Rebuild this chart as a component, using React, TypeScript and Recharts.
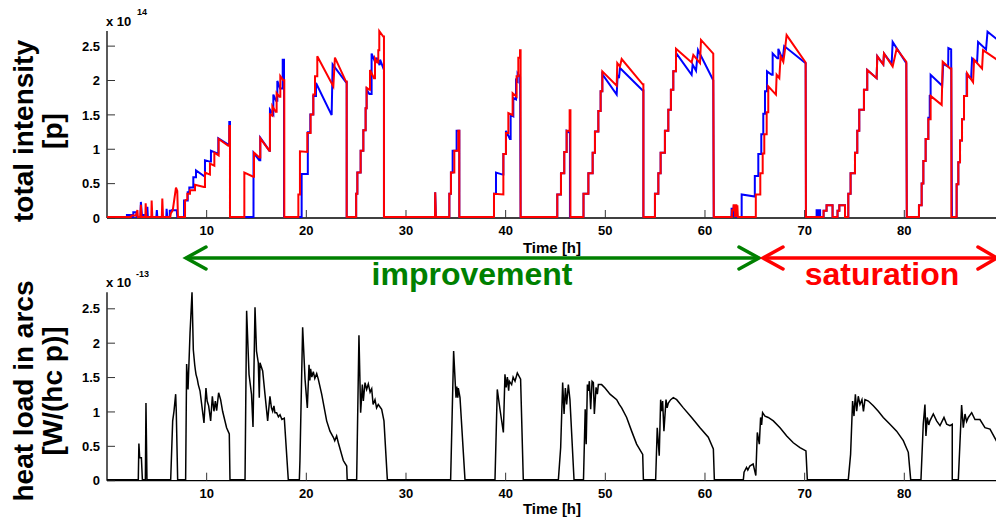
import React from 'react';
import { LineChart, Line, XAxis, YAxis } from 'recharts';

type P = [number, number];

const xTicks = [10, 20, 30, 40, 50, 60, 70, 80];
const yTicks = [0, 0.5, 1, 1.5, 2, 2.5];
const yTickLabels: Record<string, string> = { '0': '0', '0.5': '0.5', '1': '1', '1.5': '1.5', '2': '2', '2.5': '2.5' };
const xDomain: [number, number] = [0, 89.3];
const topYDomain: [number, number] = [0, 2.72];
const botYDomain: [number, number] = [0, 2.74];
// the data layer sits a hair above the frame's baseline so zero-level segments stay visible over the axis line
const topLineDomain: [number, number] = [-0.015, 2.72];
const botLineDomain: [number, number] = [-0.015, 2.74];

// total intensity, beam 1 (blue), units 1e14 p
const blueTop: P[] = [
  [0, 0], [2.0, 0], [2.0, 0.03], [2.5, 0.03], [2.5, 0], [2.64, 0], [2.64, 0.07], [2.97, 0.07], [2.97, 0], [3.35, 0], [3.4, 0.22], [3.5, 0.03], [3.7, 0.03], [3.7, 0], [4.0, 0], [4.05, 0.15], [4.1, 0], [4.95, 0], [5.0, 0.1], [5.05, 0], [5.95, 0], [5.98, 0.12], [6.05, 0], [6.3, 0], [6.3, 0.09], [6.5, 0.09], [6.5, 0.1], [7.0, 0.1], [7.05, 0],
  [7.73, 0], [7.73, 0.24], [8.1, 0.24], [8.1, 0.36], [8.26, 0.36], [8.26, 0.43], [8.66, 0.43], [8.66, 0.58], [8.93, 0.58], [8.93, 0.68], [9.73, 0.6], [9.83, 0.6], [9.83, 0.83], [10.33, 0.81], [10.43, 0.81], [10.43, 0.97], [11.07, 0.93], [11.17, 0.93], [11.17, 1.15], [12.17, 1.06], [12.27, 1.06], [12.27, 1.39], [12.34, 1.39], [12.34, 0],
  [14.7, 0], [14.7, 0.94], [15.28, 0.83], [15.38, 0.83], [15.38, 1.16], [16.29, 0.97], [16.35, 0.97], [16.35, 1.57], [16.69, 1.5], [16.69, 1.79], [16.96, 1.7], [17.09, 1.7], [17.09, 1.99], [17.36, 1.88], [17.63, 1.88], [17.63, 2.3], [17.76, 2.3], [17.76, 0],
  [19.53, 0], [19.53, 0.63], [20.15, 0.63], [20.15, 1.24], [20.4, 1.24], [20.4, 1.5], [20.7, 1.5], [20.7, 1.77], [20.97, 1.77], [20.97, 1.96], [22.54, 1.49], [22.64, 2.23], [23.98, 1.97], [24.05, 1.97], [24.05, 0],
  [25.0, 0], [25.0, 0.34], [25.12, 0.34], [25.12, 0.65], [25.45, 0.65], [25.45, 0.97], [25.72, 0.97], [25.72, 1.27], [25.95, 1.27], [25.95, 1.59], [26.05, 1.59], [26.05, 1.86], [26.32, 1.8], [26.55, 1.8], [26.55, 2.39], [26.89, 2.27], [27.0, 2.27], [27.05, 2.33], [27.35, 2.22], [27.4, 2.3], [27.79, 2.15], [27.79, 0],
  [32.91, 0], [32.93, 0.36], [33.0, 0],
  [34.35, 0], [34.35, 0.34], [34.51, 0.34], [34.51, 0.65], [34.68, 0.65], [34.68, 0.97], [35.08, 0.97], [35.08, 1.26], [35.35, 1.26], [35.35, 0],
  [38.83, 0], [38.83, 0.34], [39.03, 0.34], [39.03, 0.65], [39.7, 0.62], [39.77, 0.62], [39.77, 0.92], [40.03, 0.92], [40.03, 1.26], [40.43, 1.14], [40.5, 1.14], [40.5, 1.49], [40.77, 1.47], [40.77, 1.74], [41.04, 1.72], [41.04, 2.0], [41.2, 1.98], [41.2, 2.1], [41.45, 2.05], [41.5, 0],
  [45.18, 0], [45.18, 0.33], [45.55, 0.33], [45.55, 0.64], [45.88, 0.64], [45.88, 0.95], [46.12, 0.95], [46.12, 1.26], [46.45, 1.23], [46.45, 0],
  [47.81, 0], [47.81, 0.34], [48.3, 0.34], [48.3, 0.64], [48.73, 0.64], [48.73, 0.94], [48.96, 0.94], [48.96, 1.25], [49.3, 1.25], [49.3, 1.55], [49.53, 1.55], [49.53, 1.84], [49.7, 1.84], [49.7, 2.09], [51.14, 1.79], [51.24, 2.08], [51.37, 2.03], [51.47, 2.18], [53.75, 1.85], [53.82, 1.85], [53.82, 0],
  [54.98, 0], [54.98, 0.34], [55.32, 0.34], [55.32, 0.64], [55.55, 0.64], [55.55, 0.94], [55.98, 0.94], [55.98, 1.26], [56.32, 1.26], [56.32, 1.57], [56.58, 1.57], [56.58, 1.86], [56.82, 1.86], [56.82, 2.13], [57.09, 2.13], [57.09, 2.4], [58.66, 2.08], [58.76, 2.23], [59.1, 2.14], [59.3, 2.44], [60.83, 2.0], [60.88, 0],
  [62.65, 0], [62.67, 0.12], [62.8, 0.12], [62.8, 0], [62.9, 0.17], [63.0, 0], [63.1, 0.17], [63.15, 0], [63.68, 0], [63.68, 0.33], [65.0, 0.3], [65.0, 0.6], [65.35, 0.6], [65.35, 0.92], [65.65, 0.92], [65.65, 1.21], [65.85, 1.21], [65.85, 1.51], [66.02, 1.51], [66.02, 1.84], [66.22, 1.84], [66.22, 2.13], [66.69, 2.08], [66.79, 2.08], [66.79, 2.39], [67.26, 2.32], [67.36, 2.32], [67.36, 2.46], [67.79, 2.3], [67.95, 2.5], [70.1, 2.25], [70.13, 0],
  [71.2, 0], [71.2, 0.1], [71.35, 0.1], [71.35, 0], [71.45, 0], [71.45, 0.1], [71.55, 0.1], [71.55, 0], [71.9, 0], [71.9, 0.09], [72.2, 0.09], [72.2, 0.17], [72.8, 0.17], [72.8, 0], [73.3, 0], [73.3, 0.09], [73.48, 0.09], [73.48, 0.17], [74.05, 0.17], [74.05, 0],
  [74.38, 0], [74.38, 0.34], [74.61, 0.34], [74.61, 0.64], [75.05, 0.64], [75.05, 0.94], [75.28, 0.94], [75.28, 1.26], [75.48, 1.26], [75.48, 1.57], [75.95, 1.57], [75.95, 1.86], [76.28, 1.86], [76.28, 2.15], [77.22, 2.03], [77.29, 2.35], [77.89, 2.23], [77.96, 2.39], [78.73, 2.24], [78.83, 2.56], [80.2, 2.25], [80.25, 0],
  [81.47, 0], [81.47, 0.17], [81.74, 0.17], [81.74, 0.49], [81.91, 0.49], [81.91, 0.82], [82.14, 0.82], [82.14, 1.14], [82.41, 1.14], [82.41, 1.45], [82.55, 1.45], [82.55, 1.77], [82.64, 1.77], [82.64, 2.08], [83.8, 1.92], [83.9, 2.24], [84.4, 2.2], [84.42, 2.47], [84.7, 2.45], [84.78, 0],
  [85.25, 0], [85.25, 0.48], [85.42, 0.48], [85.42, 0.8], [85.59, 0.8], [85.59, 1.12], [85.79, 1.12], [85.79, 1.43], [85.99, 1.43], [85.99, 1.77], [86.25, 1.77], [86.25, 2.08], [86.7, 2.02], [86.8, 2.32], [87.3, 2.26], [87.4, 2.56], [88.2, 2.45], [88.35, 2.71], [89.3, 2.6],
];

// total intensity, beam 2 (red), units 1e14 p
const redTop: P[] = [
  [0, 0], [2.4, 0], [2.45, 0.02], [2.9, 0.02], [3.05, 0.1], [3.1, 0], [3.35, 0], [3.4, 0.18], [3.45, 0], [3.85, 0], [3.88, 0.2], [3.95, 0], [4.45, 0], [4.48, 0.24], [4.55, 0], [5.5, 0], [5.55, 0.27], [5.62, 0], [6.35, 0], [6.4, 0.05], [6.6, 0.1], [6.92, 0.43], [7.05, 0.38], [7.12, 0],
  [7.83, 0], [7.83, 0.24], [8.06, 0.26], [8.06, 0.34], [8.33, 0.34], [8.33, 0.39], [8.83, 0.39], [8.83, 0.47], [9.73, 0.44], [9.83, 0.44], [9.83, 0.65], [10.33, 0.62], [10.33, 0.78], [10.77, 0.75], [10.77, 0.94], [11.2, 0.9], [11.2, 1.14], [12.17, 1.04], [12.27, 1.04], [12.27, 1.33], [12.34, 1.33], [12.34, 0],
  [13.78, 0], [13.78, 0.65], [14.68, 0.59], [14.75, 0.59], [14.75, 0.94], [15.28, 0.87], [15.38, 0.87], [15.38, 1.15], [16.29, 0.97], [16.35, 0.97], [16.35, 1.5], [16.59, 1.48], [16.59, 1.62], [16.92, 1.54], [17.02, 1.54], [17.02, 1.81], [17.29, 1.76], [17.39, 1.76], [17.39, 2.06], [17.69, 2.0], [17.79, 2.0], [17.79, 0],
  [19.2, 0], [19.2, 0.33], [19.36, 0.33], [19.36, 0.96], [20.1, 0.95], [20.1, 1.23], [20.43, 1.23], [20.43, 1.5], [20.7, 1.5], [20.7, 1.79], [20.87, 1.79], [20.87, 2.06], [21.1, 2.06], [21.1, 2.35], [22.71, 1.91], [22.87, 2.33], [23.98, 1.98], [24.05, 1.98], [24.05, 0],
  [25.0, 0], [25.0, 0.34], [25.12, 0.34], [25.12, 0.65], [25.45, 0.65], [25.45, 0.97], [25.72, 0.97], [25.72, 1.27], [25.95, 1.27], [25.95, 1.59], [26.05, 1.59], [26.05, 1.89], [26.32, 1.86], [26.39, 1.86], [26.39, 2.15], [26.79, 2.03], [26.89, 2.03], [26.89, 2.32], [27.12, 2.26], [27.22, 2.26], [27.22, 2.44], [27.32, 2.44], [27.32, 2.72], [27.72, 2.64], [27.79, 2.64], [27.79, 0],
  [32.91, 0], [32.93, 0.36], [33.0, 0],
  [34.35, 0], [34.35, 0.34], [34.51, 0.34], [34.51, 0.65], [34.85, 0.65], [34.85, 0.97], [35.25, 0.97], [35.25, 1.26], [35.35, 1.26], [35.35, 0],
  [38.83, 0], [38.83, 0.34], [39.77, 0.33], [39.77, 0.92], [40.03, 0.92], [40.03, 1.23], [40.27, 1.23], [40.27, 1.52], [40.7, 1.49], [40.7, 1.81], [41.1, 1.76], [41.1, 2.06], [41.27, 2.06], [41.27, 2.33], [41.44, 2.33], [41.44, 2.44], [41.5, 2.44], [41.5, 0],
  [45.18, 0], [45.18, 0.33], [45.55, 0.33], [45.55, 0.64], [45.88, 0.64], [45.88, 0.95], [46.12, 0.95], [46.12, 1.26], [46.42, 1.26], [46.42, 1.56], [46.5, 1.56], [46.5, 0],
  [47.81, 0], [47.81, 0.34], [48.3, 0.34], [48.3, 0.64], [48.73, 0.64], [48.73, 0.94], [48.96, 0.94], [48.96, 1.25], [49.3, 1.25], [49.3, 1.55], [49.53, 1.55], [49.53, 1.84], [49.7, 1.84], [49.7, 2.13], [51.14, 1.92], [51.2, 2.25], [51.47, 2.2], [51.64, 2.31], [53.75, 1.94], [53.82, 1.94], [53.82, 0],
  [54.98, 0], [54.98, 0.34], [55.32, 0.34], [55.32, 0.64], [55.55, 0.64], [55.55, 0.94], [55.98, 0.94], [55.98, 1.26], [56.32, 1.26], [56.32, 1.57], [56.58, 1.57], [56.58, 1.86], [56.82, 1.86], [56.82, 2.13], [57.09, 2.13], [57.09, 2.46], [58.66, 2.26], [58.83, 2.37], [59.5, 2.25], [59.6, 2.59], [60.83, 2.39], [60.88, 0],
  [62.7, 0], [62.72, 0.1], [62.85, 0.1], [62.87, 0.17], [63.0, 0.17], [63.0, 0], [63.05, 0.17], [63.15, 0.17], [63.2, 0], [63.25, 0.17], [63.3, 0], [65.1, 0], [65.1, 0.33], [65.55, 0.33], [65.55, 0.64], [65.79, 0.64], [65.79, 0.93], [65.95, 0.93], [65.95, 1.21], [66.19, 1.21], [66.19, 1.53], [66.35, 1.53], [66.35, 1.91], [67.12, 1.79], [67.19, 2.08], [67.46, 2.03], [67.59, 2.35], [67.86, 2.27], [68.02, 2.44], [68.19, 2.66], [70.1, 2.26], [70.13, 0],
  [71.9, 0], [71.9, 0.09], [72.2, 0.09], [72.2, 0.17], [72.8, 0.17], [72.8, 0], [73.3, 0], [73.3, 0.09], [73.48, 0.09], [73.48, 0.17], [74.05, 0.17], [74.05, 0],
  [74.38, 0], [74.38, 0.34], [74.61, 0.34], [74.61, 0.64], [75.05, 0.64], [75.05, 0.94], [75.28, 0.94], [75.28, 1.26], [75.48, 1.26], [75.48, 1.57], [75.95, 1.57], [75.95, 1.86], [76.28, 1.86], [76.28, 2.15], [77.22, 2.03], [77.29, 2.35], [77.89, 2.23], [77.96, 2.39], [78.83, 2.2], [79.23, 2.46], [80.2, 2.27], [80.25, 0],
  [81.47, 0], [81.47, 0.17], [81.74, 0.17], [81.74, 0.49], [81.91, 0.49], [81.91, 0.82], [82.14, 0.82], [82.14, 1.14], [82.41, 1.14], [82.41, 1.43], [82.64, 1.43], [82.64, 1.77], [83.75, 1.64], [83.85, 2.27], [84.6, 2.17], [84.72, 2.17], [84.72, 0],
  [85.25, 0], [85.25, 0.48], [85.42, 0.48], [85.42, 0.8], [85.59, 0.8], [85.59, 1.12], [85.79, 1.12], [85.79, 1.43], [85.99, 1.43], [85.99, 1.77], [86.3, 1.77], [86.3, 2.1], [86.9, 1.97], [87.0, 2.3], [87.8, 2.17], [87.9, 2.44], [89.3, 2.3],
];

// heat load in arcs, units 1e-13 W/(hc p)
const heatLoad: P[] = [
  [0, 0], [3.14, 0], [3.2, 0.53], [3.28, 0.32], [3.45, 0.32], [3.55, 0], [3.85, 0], [3.91, 1.12], [4.01, 0],
  [6.39, 0], [6.59, 0.86], [6.72, 1.0], [6.82, 1.15], [6.89, 1.25], [6.95, 1.0], [7.09, 0],
  [7.89, 0], [7.99, 1.69], [8.13, 1.32], [8.33, 2.14], [8.53, 2.74], [8.66, 1.9], [8.8, 1.68], [8.87, 1.6], [8.93, 1.54], [9.06, 1.47], [9.16, 1.39], [9.33, 1.3], [9.73, 0.83], [9.93, 1.34], [10.05, 1.15], [10.2, 1.08], [10.4, 0.86], [10.57, 1.22], [10.73, 1.0], [10.87, 1.15], [11.0, 1.01], [11.2, 1.27], [11.4, 1.17], [11.6, 1.0], [12.0, 0.76], [12.27, 0.67], [12.34, 0],
  [13.85, 0], [14.01, 2.47], [14.25, 1.54], [14.5, 1.25], [14.65, 0.77], [14.85, 2.52], [15.0, 1.88], [15.18, 1.71], [15.28, 1.2], [15.35, 1.71], [15.62, 1.59], [15.85, 1.25], [16.12, 0.86], [16.35, 1.22], [16.5, 1.05], [16.62, 1.0], [16.75, 1.08], [16.85, 0.98], [17.02, 0.98], [17.2, 0.92], [17.36, 0.95], [17.55, 0.88], [17.79, 0.9], [18.19, 0],
  [19.3, 0], [19.36, 0.28], [19.63, 2.23], [19.87, 1.47], [20.1, 1.05], [20.27, 1.68], [20.35, 1.45], [20.43, 1.62], [20.55, 1.5], [20.7, 1.58], [20.85, 1.48], [21.04, 1.55], [21.2, 1.47], [21.54, 1.25], [22.04, 0.86], [22.37, 0.71], [22.71, 0.62], [22.85, 0.57], [23.04, 0.64], [23.21, 0.54], [23.71, 0.28], [24.05, 0.2], [24.1, 0],
  [25.05, 0], [25.28, 2.11], [25.45, 0.98], [25.62, 1.39], [25.72, 1.15], [25.89, 1.42], [26.05, 1.32], [26.22, 1.4], [26.4, 1.28], [26.56, 1.33], [26.7, 1.1], [26.89, 1.17], [27.05, 1.05], [27.22, 1.1], [27.56, 1.03], [27.79, 0.86], [28.13, 0],
  [34.48, 0], [34.78, 1.88], [34.95, 1.39], [35.02, 1.2], [35.1, 1.36], [35.2, 1.2], [35.25, 1.34], [35.42, 1.2], [35.92, 0],
  [38.93, 0], [39.16, 1.32], [39.43, 1.03], [39.77, 0.69], [39.93, 1.54], [40.05, 1.35], [40.17, 1.5], [40.3, 1.3], [40.37, 1.44], [40.6, 1.39], [40.75, 1.5], [40.94, 1.44], [41.17, 1.56], [41.5, 1.47], [41.77, 0],
  [45.29, 0], [45.52, 0.47], [45.72, 1.42], [45.86, 0.96], [45.99, 1.34], [46.12, 1.1], [46.29, 1.39], [46.45, 1.17], [46.86, 0],
  [47.81, 0], [47.98, 1.03], [48.08, 0.52], [48.2, 1.39], [48.3, 1.3], [48.4, 1.44], [48.53, 1.03], [48.67, 1.44], [48.8, 1.42], [48.9, 0.96], [49.07, 1.35], [49.2, 1.25], [49.3, 1.39], [49.63, 1.39], [49.97, 1.34], [50.47, 1.25], [51.14, 1.17], [51.4, 1.1], [51.64, 1.05], [52.14, 0.91], [52.64, 0.71], [53.14, 0.52], [53.75, 0.37], [53.82, 0],
  [55.05, 0], [55.21, 0.76], [55.41, 0.35], [55.55, 1.17], [55.65, 1.0], [55.75, 1.15], [55.88, 0.71], [56.09, 1.17], [56.2, 1.05], [56.32, 1.12], [56.56, 1.17], [56.82, 1.2], [57.16, 1.17], [57.83, 1.05], [58.66, 0.91], [59.5, 0.76], [60.33, 0.62], [60.84, 0.45], [60.94, 0],
  [63.85, 0], [63.92, 0.11], [64.17, 0.18], [64.3, 0.14], [64.5, 0.2], [64.83, 0.23], [65.1, 0.06], [65.25, 0.69], [65.45, 0.52], [65.58, 0.91], [65.68, 0.8], [65.78, 0.98], [66.02, 0.93], [66.35, 0.91], [66.86, 0.86], [67.53, 0.76], [68.2, 0.64], [68.86, 0.54], [69.53, 0.47], [70.13, 0.42], [70.27, 0],
  [74.38, 0], [74.61, 0.37], [74.81, 1.15], [74.95, 0.93], [75.09, 1.25], [75.22, 1.0], [75.38, 1.22], [75.55, 1.1], [75.75, 1.17], [75.9, 1.0], [76.05, 1.17], [76.39, 1.15], [76.89, 1.08], [77.39, 1.0], [77.89, 0.91], [78.56, 0.81], [79.23, 0.71], [79.9, 0.57], [80.4, 0.4], [80.64, 0],
  [81.67, 0], [81.9, 0.81], [82.07, 1.1], [82.17, 0.64], [82.3, 0.91], [82.45, 0.8], [82.57, 0.86], [82.91, 0.96], [83.24, 0.86], [83.58, 0.79], [83.98, 0.91], [84.25, 0.81], [84.58, 0.79], [84.81, 0.81], [84.81, 0],
  [85.42, 0], [85.75, 1.09], [85.92, 0.76], [86.09, 0.96], [86.25, 0.85], [86.42, 0.91], [86.76, 0.98], [87.09, 0.88], [87.59, 0.88], [88.09, 0.76], [88.6, 0.74], [89.3, 0.55],
];

const toData = (a: P[]) => a.map(([t, v]) => ({ t, v }));
const FONT = '"Liberation Sans", Arial, Helvetica, sans-serif';
const TICK_LEN = 8;
const CHART_W = 998;
const Y_AXIS_W = 107;

const LeftTick = (props: any) => {
  const { x, y, payload } = props;
  return (
    <g>
      <line x1={x} y1={y} x2={x + TICK_LEN} y2={y} stroke="#333" strokeWidth={1} />
      <text x={x - 7} y={y} dy="0.36em" textAnchor="end" fontFamily={FONT} fontWeight="bold" fontSize={13} fill="#000">
        {yTickLabels[String(payload.value)]}
      </text>
    </g>
  );
};
const RightTick = (props: any) => {
  const { x, y } = props;
  return <line x1={x} y1={y} x2={x - TICK_LEN} y2={y} stroke="#333" strokeWidth={1} />;
};
const BottomTick = (props: any) => {
  const { x, y, payload } = props;
  return (
    <g>
      <line x1={x} y1={y} x2={x} y2={y - TICK_LEN} stroke="#333" strokeWidth={1} />
      <text x={x} y={y + 17} textAnchor="middle" fontFamily={FONT} fontWeight="bold" fontSize={13} fill="#000">
        {payload.value}
      </text>
    </g>
  );
};
const TopTick = (props: any) => {
  const { x, y } = props;
  return <line x1={x} y1={y} x2={x} y2={y + TICK_LEN} stroke="#333" strokeWidth={1} />;
};

type Series = { key: string; data: P[]; color: string; width: number };

function panel(
  top: number,
  height: number,
  marginTop: number,
  xAxisHeight: number,
  yDomain: [number, number],
  lineDomain: [number, number],
  series: Series[]
) {
  const axisLine = { stroke: '#000', strokeWidth: 1.3 };
  return (
    <div style={{ position: 'absolute', left: 0, top, width: CHART_W, height }}>
      {/* frame: box, ticks and tick labels */}
      <div style={{ position: 'absolute', left: 0, top: 0 }}>
        <LineChart width={CHART_W} height={height} margin={{ top: marginTop, right: 1, bottom: 0, left: 0 }}>
          <XAxis dataKey="t" type="number" domain={xDomain} ticks={xTicks} interval={0} height={xAxisHeight}
            tickSize={0} tickMargin={0} tickLine={false} axisLine={axisLine} tick={<BottomTick />} />
          <XAxis xAxisId="top" orientation="top" type="number" domain={xDomain} ticks={xTicks} interval={0} height={0}
            tickSize={0} tickMargin={0} tickLine={false} axisLine={axisLine} tick={<TopTick />} />
          <YAxis type="number" domain={yDomain} ticks={yTicks} interval={0} width={Y_AXIS_W}
            tickSize={0} tickMargin={0} tickLine={false} axisLine={axisLine} tick={<LeftTick />} />
          <YAxis yAxisId="right" orientation="right" type="number" domain={yDomain} ticks={yTicks} interval={0} width={0}
            tickSize={0} tickMargin={0} tickLine={false} axisLine={false} tick={<RightTick />} />
          {series.map((s) => (
            <Line key={s.key} data={toData(s.data)} dataKey="v" type="linear" stroke="transparent" strokeWidth={0}
              dot={false} isAnimationActive={false} />
          ))}
        </LineChart>
      </div>
      {/* data lines drawn above the frame */}
      <div style={{ position: 'absolute', left: 0, top: 0 }}>
        <LineChart width={CHART_W} height={height}
          margin={{ top: marginTop, right: 1, bottom: xAxisHeight, left: Y_AXIS_W }}>
          <XAxis dataKey="t" type="number" domain={xDomain} hide />
          <YAxis type="number" domain={lineDomain} hide />
          {series.map((s) => (
            <Line key={s.key} data={toData(s.data)} dataKey="v" type="linear" stroke={s.color} strokeWidth={s.width}
              dot={false} isAnimationActive={false} />
          ))}
        </LineChart>
      </div>
    </div>
  );
}

export default function App() {
  const txt = { fontFamily: FONT, fontWeight: 'bold' as const };
  return (
    <div style={{ position: 'absolute', left: 0, top: 0, width: 996, height: 518, overflow: 'hidden', background: '#fff' }}>
      {panel(0, 250, 31, 32, topYDomain, topLineDomain, [
        { key: 'b', data: blueTop, color: '#0000ff', width: 2 },
        { key: 'r', data: redTop, color: '#ff0000', width: 2 },
      ])}
      {panel(260, 258, 32.3, 37.3, botYDomain, botLineDomain, [
        { key: 'k', data: heatLoad, color: '#000000', width: 1.5 },
      ])}
      <svg width={996} height={518} style={{ position: 'absolute', left: 0, top: 0, pointerEvents: 'none' }}>
        {/* top panel labels */}
        <text x={106} y={26} fontSize={13} {...txt}>x 10</text>
        <text x={137} y={15} fontSize={9} {...txt}>14</text>
        <text transform="translate(33,131) rotate(-90)" textAnchor="middle" fontSize={28} {...txt}>total intensity</text>
        <text transform="translate(62,131) rotate(-90)" textAnchor="middle" fontSize={28} {...txt}>[p]</text>
        <text x={552} y={253} textAnchor="middle" fontSize={15} {...txt}>Time [h]</text>
        {/* arrows */}
        <g stroke="#008000" strokeWidth={3.5} fill="none" strokeLinecap="round">
          <line x1={187} y1={258} x2={758} y2={258} />
          <polyline points="206,247 186,258 206,269" />
          <polyline points="739,247 759,258 739,269" />
        </g>
        <g stroke="#ff0000" strokeWidth={3.5} fill="none" strokeLinecap="round">
          <line x1={764} y1={258} x2={996} y2={258} />
          <polyline points="783,247 763,258 783,269" />
          <polyline points="978,247 997,258 978,269" />
        </g>
        <text x={472} y={285} textAnchor="middle" fontSize={32} fill="#008000" {...txt}>improvement</text>
        <text x={882} y={285} textAnchor="middle" fontSize={32} fill="#ff0000" {...txt}>saturation</text>
        {/* bottom panel labels */}
        <text x={106} y={287} fontSize={13} {...txt}>x 10</text>
        <text x={136} y={277} fontSize={9} {...txt}>-13</text>
        <text transform="translate(33,391) rotate(-90)" textAnchor="middle" fontSize={28} {...txt}>heat load in arcs</text>
        <text transform="translate(62,391) rotate(-90)" textAnchor="middle" fontSize={28} {...txt}>[W/(hc p)]</text>
        <text x={552} y={514} textAnchor="middle" fontSize={15} {...txt}>Time [h]</text>
      </svg>
    </div>
  );
}
